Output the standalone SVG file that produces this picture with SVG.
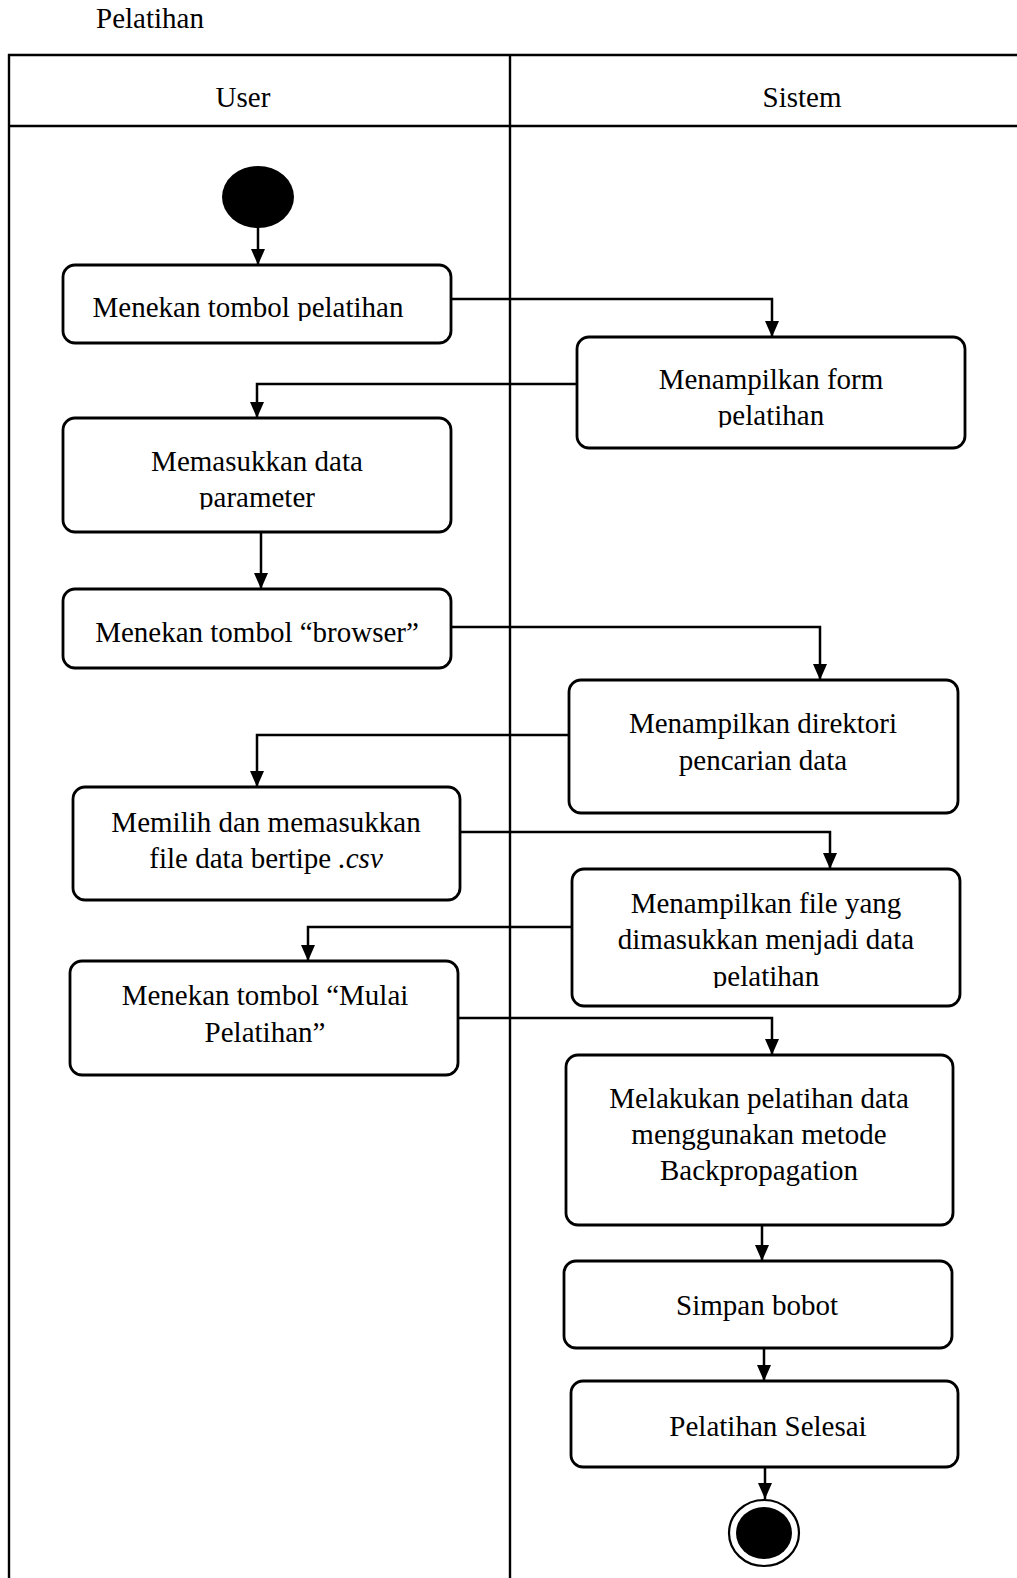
<svg xmlns="http://www.w3.org/2000/svg" width="1017" height="1578" viewBox="0 0 1017 1578">
<style>
text{font-family:"Liberation Serif","Times New Roman",serif;font-size:29px;fill:#000;text-anchor:middle}
.box{fill:#fff;stroke:#000;stroke-width:2.8}
.lane{stroke:#000;stroke-width:2.4;fill:none}
.conn{stroke:#000;stroke-width:2.5;fill:none;marker-end:url(#arr)}
</style>
<defs>
<marker id="arr" markerUnits="userSpaceOnUse" markerWidth="16" markerHeight="14" refX="16" refY="7" orient="auto">
<path d="M0,0 L16,7 L0,14 z" fill="#000"/>
</marker>
<clipPath id="c1"><rect x="0" y="0" width="1017" height="321"/></clipPath>
<clipPath id="c2"><rect x="0" y="0" width="1017" height="427.5"/></clipPath>
<clipPath id="c3"><rect x="0" y="0" width="1017" height="509.5"/></clipPath>
<clipPath id="c7"><rect x="0" y="0" width="1017" height="988"/></clipPath>
</defs>
<rect width="1017" height="1578" fill="#fff"/>
<text x="96" y="28" style="text-anchor:start">Pelatihan</text>
<g id="swimlanes">
<line class="lane" x1="8" y1="55" x2="1017" y2="55" stroke-width="3"/>
<line class="lane" x1="8" y1="126" x2="1017" y2="126"/>
<line class="lane" x1="9" y1="54" x2="9" y2="1578"/>
<line class="lane" x1="510" y1="54" x2="510" y2="1578"/>
<text x="243" y="107">User</text>
<text x="802" y="107">Sistem</text>
</g>
<g id="connectors">
<path class="conn" d="M258,228 V265"/>
<path class="conn" d="M451,299 H772 V337"/>
<path class="conn" d="M577,384 H257 V418"/>
<path class="conn" d="M261,532 V589"/>
<path class="conn" d="M451,627 H820 V680"/>
<path class="conn" d="M569,735 H257 V787"/>
<path class="conn" d="M460,832 H830 V869"/>
<path class="conn" d="M572,927 H308 V961"/>
<path class="conn" d="M458,1018 H772 V1055"/>
<path class="conn" d="M762,1225 V1261"/>
<path class="conn" d="M764,1348 V1381"/>
<path class="conn" d="M765,1467 V1499"/>
</g>
<g id="start"><ellipse cx="258" cy="197" rx="36" ry="31" fill="#000"/></g>
<g id="n1"><rect class="box" x="63" y="265" width="388" height="78" rx="12"/>
<text x="248" y="317" clip-path="url(#c1)">Menekan tombol pelatihan</text></g>
<g id="n2"><rect class="box" x="577" y="337" width="388" height="111" rx="12"/>
<text x="771" y="389">Menampilkan form</text>
<text x="771" y="425" clip-path="url(#c2)">pelatihan</text></g>
<g id="n3"><rect class="box" x="63" y="418" width="388" height="114" rx="12"/>
<text x="257" y="471">Memasukkan data</text>
<text x="257" y="507" clip-path="url(#c3)">parameter</text></g>
<g id="n4"><rect class="box" x="63" y="589" width="388" height="79" rx="12"/>
<text x="257" y="642">Menekan tombol “browser”</text></g>
<g id="n5"><rect class="box" x="569" y="680" width="389" height="133" rx="12"/>
<text x="763" y="733">Menampilkan direktori</text>
<text x="763" y="770">pencarian data</text></g>
<g id="n6"><rect class="box" x="73" y="787" width="387" height="113" rx="12"/>
<text x="266" y="832">Memilih dan memasukkan</text>
<text x="266" y="868">file data bertipe <tspan font-style="italic">.csv</tspan></text></g>
<g id="n7"><rect class="box" x="572" y="869" width="388" height="137" rx="12"/>
<text x="766" y="913">Menampilkan file yang</text>
<text x="766" y="949">dimasukkan menjadi data</text>
<text x="766" y="986" clip-path="url(#c7)">pelatihan</text></g>
<g id="n8"><rect class="box" x="70" y="961" width="388" height="114" rx="12"/>
<text x="265" y="1005">Menekan tombol “Mulai</text>
<text x="265" y="1042">Pelatihan”</text></g>
<g id="n9"><rect class="box" x="566" y="1055" width="387" height="170" rx="12"/>
<text x="759" y="1108">Melakukan pelatihan data</text>
<text x="759" y="1144">menggunakan metode</text>
<text x="759" y="1180">Backpropagation</text></g>
<g id="n10"><rect class="box" x="564" y="1261" width="388" height="87" rx="12"/>
<text x="757" y="1315">Simpan bobot</text></g>
<g id="n11"><rect class="box" x="571" y="1381" width="387" height="86" rx="12"/>
<text x="768" y="1436">Pelatihan Selesai</text></g>
<g id="end"><ellipse cx="764" cy="1533" rx="35" ry="33" fill="#fff" stroke="#000" stroke-width="2.2"/>
<ellipse cx="764" cy="1533" rx="28" ry="26" fill="#000"/></g>
</svg>
